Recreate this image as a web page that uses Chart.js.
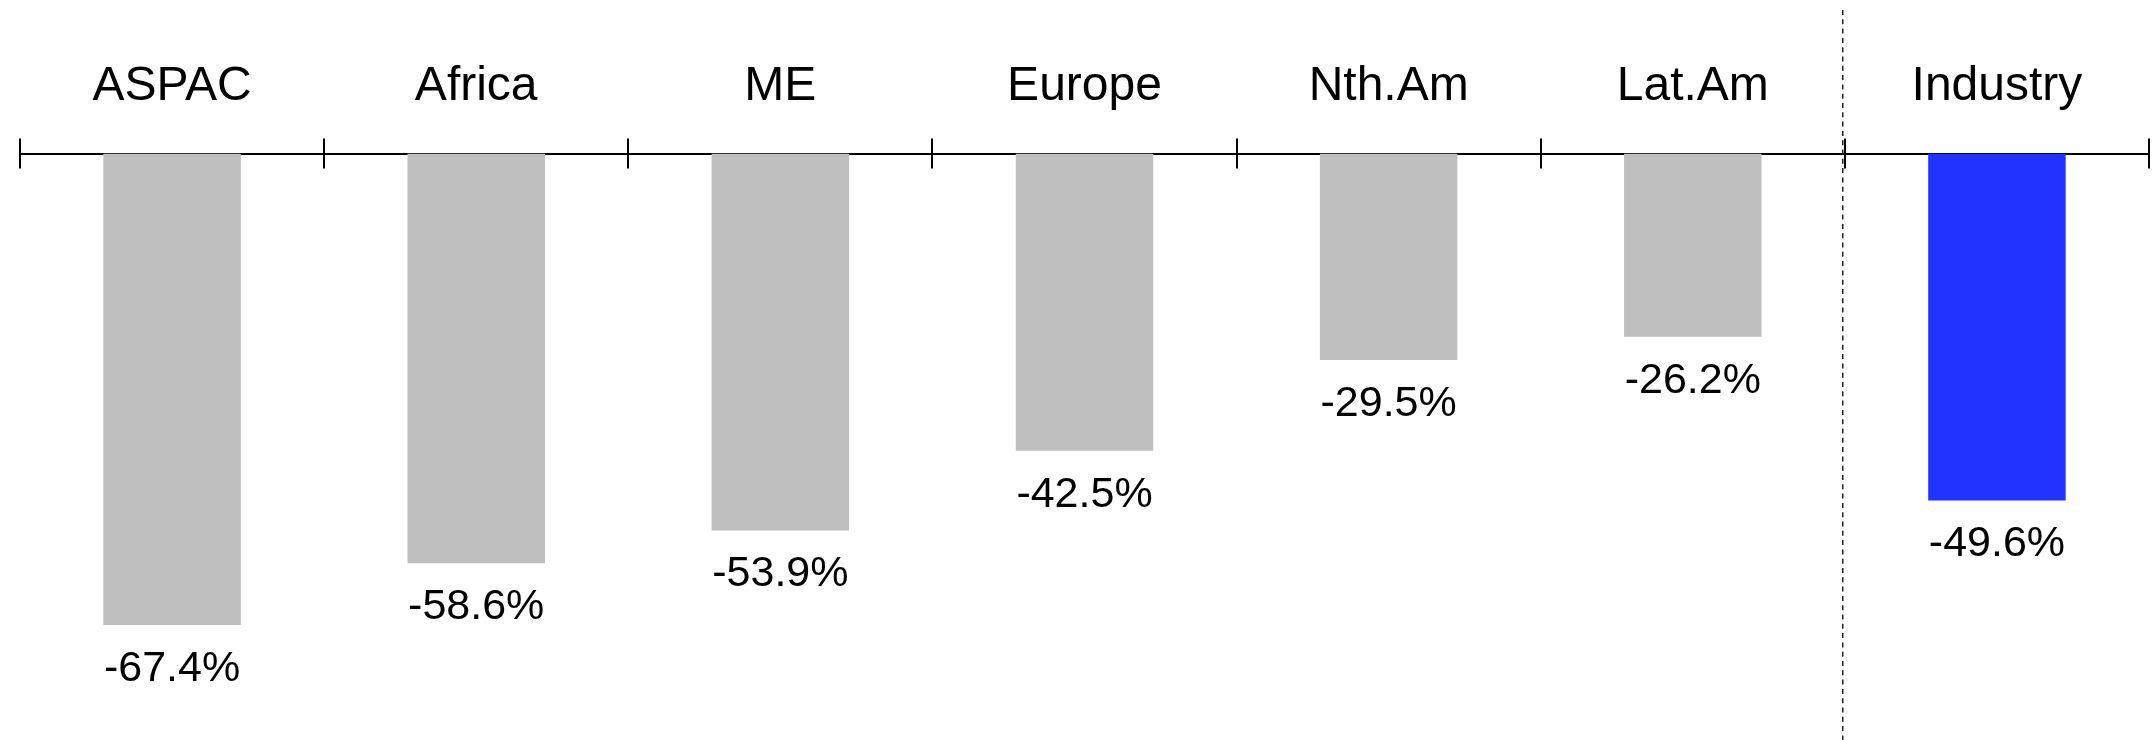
<!DOCTYPE html>
<html>
<head>
<meta charset="utf-8">
<script src="https://cdn.jsdelivr.net/npm/chart.js@4/dist/chart.umd.min.js"></script>
<style>
  html, body { margin: 0; padding: 0; background: #ffffff; }
  #wrap { width: 2154px; height: 740px; position: relative; }
</style>
</head>
<body>
<div id="wrap"><canvas id="chart" width="2154" height="740"></canvas></div>
<script>
// Regional change, per cent
const regions = ['ASPAC', 'Africa', 'ME', 'Europe', 'Nth.Am', 'Lat.Am', 'Industry'];
const changePct = [-67.4, -58.6, -53.9, -42.5, -29.5, -26.2, -49.6];
const barColors = ['#bfbfbf', '#bfbfbf', '#bfbfbf', '#bfbfbf', '#bfbfbf', '#bfbfbf', '#2233ff'];
const dividerAfter = 'Lat.Am';

const FONT = "'Liberation Sans', Arial, sans-serif";

// Tick marks below the axis line, the dashed divider and the value labels
const axisDecor = {
  id: 'axisDecor',
  afterDatasetsDraw(chart) {
    const ctx = chart.ctx;
    const x = chart.scales.x;
    const area = chart.chartArea;
    const step = x.getPixelForValue(1) - x.getPixelForValue(0);
    const first = x.getPixelForValue(0) - step / 2;

    ctx.save();
    ctx.strokeStyle = '#000000';
    ctx.lineWidth = 2;
    for (let i = 0; i <= regions.length; i++) {
      const px = Math.round(first + i * step);
      ctx.beginPath();
      ctx.moveTo(px, area.top);
      ctx.lineTo(px, area.top + 15);
      ctx.stroke();
    }

    // dashed divider before the industry total
    const k = regions.indexOf(dividerAfter);
    const dx = Math.round(x.getPixelForValue(k) + step / 2) - 2.25;
    ctx.lineWidth = 1.5;
    ctx.strokeStyle = '#222222';
    ctx.setLineDash([5, 4.3]);
    ctx.beginPath();
    ctx.moveTo(dx, 10);
    ctx.lineTo(dx, chart.height);
    ctx.stroke();
    ctx.setLineDash([]);

    // value labels under each bar
    const meta = chart.getDatasetMeta(0);
    ctx.fillStyle = '#000000';
    ctx.font = '43px ' + FONT;
    ctx.textAlign = 'center';
    ctx.textBaseline = 'alphabetic';
    meta.data.forEach((bar, i) => {
      ctx.fillText(changePct[i].toFixed(1) + '%', bar.x, bar.y + 56);
    });
    ctx.restore();
  }
};

new Chart(document.getElementById('chart'), {
  type: 'bar',
  data: {
    labels: regions,
    datasets: [{
      data: changePct,
      backgroundColor: barColors,
      borderWidth: 0,
      categoryPercentage: 1,
      barPercentage: 0.452
    }]
  },
  options: {
    responsive: false,
    devicePixelRatio: 1,
    animation: false,
    layout: { padding: { left: 20, right: 5, top: 35, bottom: 27 } },
    plugins: {
      legend: { display: false },
      tooltip: { enabled: false }
    },
    scales: {
      x: {
        position: 'top',
        offset: true,
        grid: {
          offset: true,
          drawOnChartArea: false,
          drawTicks: true,
          tickLength: 15,
          color: '#000000',
          lineWidth: 2
        },
        border: { display: true, color: '#000000', width: 2 },
        ticks: {
          color: '#000000',
          font: { family: FONT, size: 48 },
          padding: 23,
          maxRotation: 0,
          autoSkip: false
        }
      },
      y: {
        display: false,
        min: -80,
        max: 0
      }
    }
  },
  plugins: [axisDecor]
});
</script>
</body>
</html>
